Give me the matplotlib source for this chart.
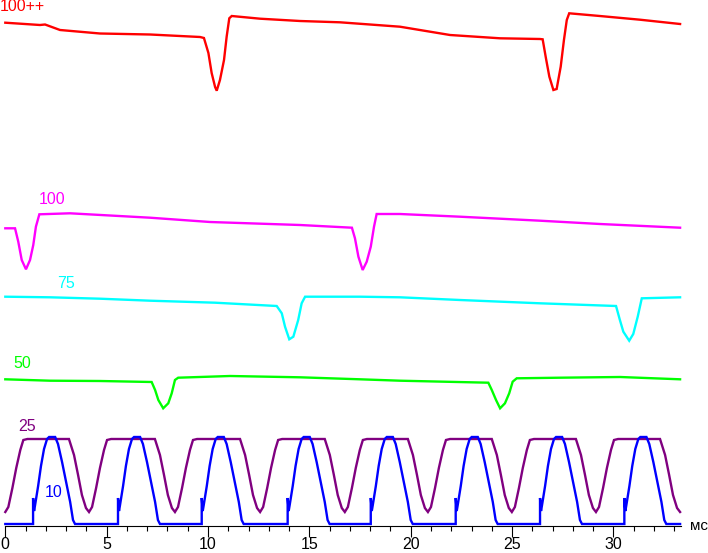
import numpy as np
import matplotlib.pyplot as plt
import matplotlib

# 字型：Liberation Sans 帶有西里爾字母 (мс)
matplotlib.rcParams['font.family'] = ['Liberation Sans', 'DejaVu Sans']

# ---- 量測數據 (時間 мс, 相對亮度 a.u.) ----
# 100++ (紅)
RED_T = [0.0, 1.71, 1.96, 2.70, 4.67, 7.14, 9.61, 9.80, 10.02, 10.18, 10.35, 10.43,
         10.59, 10.79, 10.92, 11.05, 11.17, 12.57, 14.54, 16.51, 19.47, 21.94, 24.41,
         26.38, 26.51, 26.67, 26.84, 27.04, 27.20, 27.40, 27.56, 27.70, 27.82, 29.33,
         31.31, 33.29]
RED_V = [68.3, 66, 66.5, 61, 57.5, 56.5, 54, 53, 38, 18, 4, 0.3,
         11, 31, 54.3, 72.7, 75, 72.3, 70, 68.7, 64.3, 56, 52.7,
         52, 51.7, 33, 14.3, 1, 2, 24.3, 51, 71, 77.7, 75,
         71.3, 67]

# 100 (洋紅)
MAG_T = [0.0, 0.48, 0.64, 0.81, 1.02, 1.22, 1.38, 1.51, 1.68, 3.19, 7.14, 10.10,
         14.54, 17.10, 17.25, 17.42, 17.63, 17.83, 18.03, 18.19, 18.32, 19.47, 22.43,
         26.38, 29.34, 33.29]
MAG_V = [41.7, 41.7, 28.3, 10, 0.7, 10, 25, 43.3, 55.7, 56.7, 52.3, 48,
         45, 42.3, 31.7, 13.3, 0, 8.3, 23.3, 43.3, 56, 56, 53.3,
         49.3, 46, 42.3]

# 75 (青)
CYAN_T = [0.0, 2.21, 4.67, 7.14, 10.35, 13.39, 13.64, 13.80, 14.01, 14.21, 14.45,
          14.62, 14.79, 17.50, 19.47, 22.43, 26.38, 30.13, 30.32, 30.49, 30.78, 30.98,
          31.20, 31.40, 33.29]
CYAN_V = [43.3, 42.7, 41.3, 39.3, 37.3, 34, 26.7, 13.3, 0.7, 3.3, 20,
          36.7, 43.3, 43.3, 42.7, 40, 36.7, 34, 20, 8.3, -0.7, 6,
          23.3, 41.7, 42.7]

# 50 (綠)
GREEN_T = [0.0, 2.21, 4.67, 7.22, 7.39, 7.55, 7.79, 8.04, 8.21, 8.37, 8.53, 11.09,
           14.54, 17.50, 19.47, 23.83, 24.00, 24.21, 24.41, 24.65, 24.86, 25.03, 25.23,
           27.37, 30.33, 33.29]
GREEN_V = [28.7, 27.3, 27, 26, 18, 8, -0.3, 4.7, 14.7, 28, 30.3, 32,
           30.7, 28.7, 27.3, 25.3, 18, 8, -0.3, 4.7, 14.7, 26.3, 29.7,
           30.3, 31, 28.7]

# 25 (紫)：單一週期波形 + 各週期谷底時間
PURPLE_DT = [-0.99, -0.74, -0.54, -0.35, -0.15, 0.0, 0.15, 0.35, 0.54, 0.74, 0.89, 1.09]
PURPLE_LVL = [85, 69, 49, 29, 16, 12, 17, 36, 56, 74, 84, 85]
PURPLE_TROUGHS = [0.0, 4.13, 8.37, 12.57, 16.75, 20.85, 24.99, 29.14, 33.29]

# 10 (藍)：單一脈衝波形 + 各脈衝起點
BLUE_DT = [0, 0, 0.05, 0.10, 0.25, 0.39, 0.54, 0.69, 0.79, 1.09, 1.23, 1.43, 1.63, 1.83, 1.97, 2.07]
BLUE_LVL = [0, 26, 13, 19, 38, 58, 75, 85, 87, 87, 80, 62, 42, 22, 4, 0]
BLUE_STARTS = [1.37, 5.56, 9.69, 13.93, 18.03, 22.22, 26.38, 30.54]

T_END = 33.29
LABELS = ['100++', '100', '75', '50', '25', '10']
COLORS = ['#ff0000', '#ff00ff', '#00ffff', '#00ff00', '#800080', '#0000ff']

# 各曲線在畫面上的基準高度 (版面位置)
BASES = [434.5, 255.5, 185.5, 117.5, 1.5, 1.5]
LABEL_POS = [(-0.285, 519.0, 'left'), (2.30, 326.5, 'center'), (3.00, 242.0, 'center'),
             (0.82, 161.5, 'center'), (1.05, 99.2, 'center'), (2.40, 33.0, 'center')]


def build_periodic(dt, lvl, times, t_end):
    """把單一週期樣板依序排到各個時間點，接成一條曲線"""
    t_all, v_all = [], []
    for t0 in times:
        for d, v in zip(dt, lvl):
            t = t0 + d
            if 0 <= t <= t_end:
                t_all.append(t)
                v_all.append(v)
    return np.array(t_all), np.array(v_all)


purple_t, purple_v = build_periodic(PURPLE_DT, PURPLE_LVL, PURPLE_TROUGHS, T_END)
blue_t, blue_v = build_periodic(BLUE_DT, BLUE_LVL, BLUE_STARTS, T_END)
blue_t = np.concatenate([[0.0], blue_t, [T_END]])
blue_v = np.concatenate([[0.0], blue_v, [0.0]])

series = [
    (np.array(RED_T), np.array(RED_V)),
    (np.array(MAG_T), np.array(MAG_V)),
    (np.array(CYAN_T), np.array(CYAN_V)),
    (np.array(GREEN_T), np.array(GREEN_V)),
    (purple_t, purple_v),
    (blue_t, blue_v),
]

fig = plt.figure(figsize=(7.08, 5.53), dpi=100)
ax = fig.add_axes([0, 27.5 / 553, 1, 525.5 / 553])

for (t, v), base, color, lab, (lx, ly, ha) in zip(series, BASES, COLORS, LABELS, LABEL_POS):
    ax.plot(t, v + base, color=color, linewidth=1.7, solid_joinstyle='miter')
    ax.text(lx, ly, lab, color=color, fontsize=11.5, ha=ha, va='center')

ax.set_xlim(-5.3 / 20.27, (708 - 5.3) / 20.27)
ax.set_ylim(0, 525.5)

for side in ['left', 'right', 'top']:
    ax.spines[side].set_visible(False)
ax.spines['bottom'].set_bounds(0, 33.32)
ax.spines['bottom'].set_linewidth(0.8)

ax.set_yticks([])
ax.set_xticks(range(0, 31, 5))
ax.set_xticks(range(0, 34), minor=True)
ax.tick_params(axis='x', which='major', length=8, width=0.8, direction='out', pad=0, labelsize=11.5)
ax.tick_params(axis='x', which='minor', length=3.8, width=0.8, direction='out')

ax.text((689.5 - 5.3) / 20.27, 0, 'мс', fontsize=11, ha='left', va='center')

fig.savefig('out.png', dpi=100)
plt.close()
